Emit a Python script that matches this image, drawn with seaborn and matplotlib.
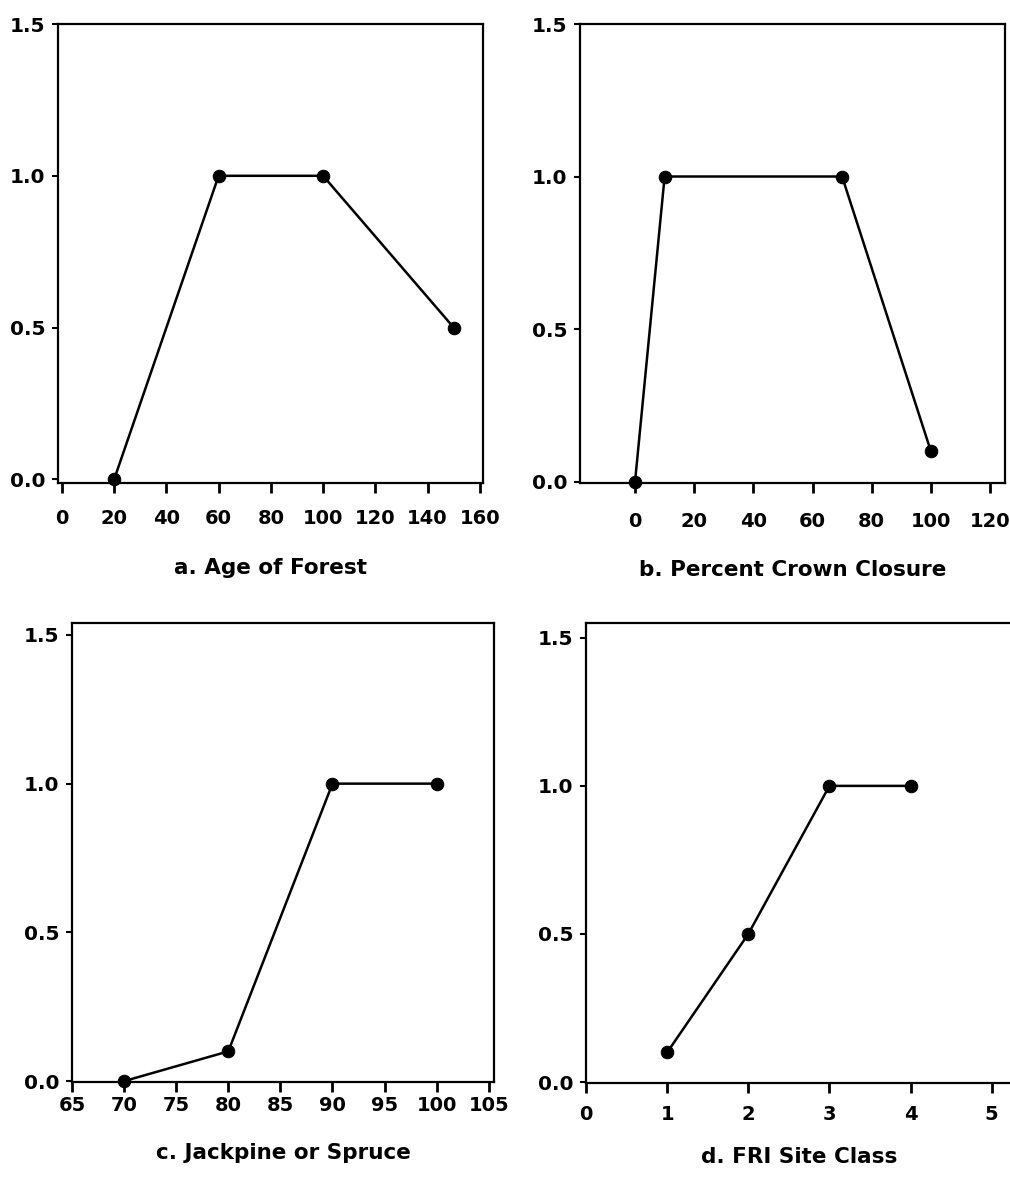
import matplotlib
matplotlib.use("Agg")
import matplotlib.pyplot as plt
import seaborn as sns

# Data
age_x = [20, 60, 100, 150]
age_y = [0.0, 1.0, 1.0, 0.5]

crown_x = [0, 10, 70, 100]
crown_y = [0.0, 1.0, 1.0, 0.1]

jack_x = [70, 80, 90, 100]
jack_y = [0.0, 0.1, 1.0, 1.0]

site_x = [1, 2, 3, 4]
site_y = [0.1, 0.5, 1.0, 1.0]

y_ticks = [0.0, 0.5, 1.0, 1.5]
y_labels = ["0.0", "0.5", "1.0", "1.5"]

age_ticks = [0, 20, 40, 60, 80, 100, 120, 140, 160]
crown_ticks = [0, 20, 40, 60, 80, 100, 120]
jack_ticks = [65, 70, 75, 80, 85, 90, 95, 100, 105]
site_ticks = [0, 1, 2, 3, 4, 5]

titles = ["a. Age of Forest", "b. Percent Crown Closure",
          "c. Jackpine or Spruce", "d. FRI Site Class"]

sns.set_style("white")
plt.rcParams["font.family"] = ["DejaVu Sans"]
plt.rcParams["font.weight"] = "bold"

fig = plt.figure(figsize=(10.1, 11.77), dpi=100)

# axes rectangles (figure fractions) and limits per panel
panels = [
    dict(rect=[0.0574, 0.5896, 0.4208, 0.390], x=age_x, y=age_y, xt=age_ticks,
         xlim=(-1.5, 161.2), ylim=(-0.012, 1.5), title=titles[0], xpad=12, lab=-0.185),
    dict(rect=[0.5743, 0.5896, 0.4208, 0.390], x=crown_x, y=crown_y, xt=crown_ticks,
         xlim=(-18.6, 125.1), ylim=(-0.005, 1.5), title=titles[1], xpad=14, lab=-0.19),
    dict(rect=[0.0713, 0.0807, 0.4178, 0.390], x=jack_x, y=jack_y, xt=jack_ticks,
         xlim=(65, 105.5), ylim=(-0.003, 1.54), title=titles[2], xpad=3, lab=-0.155),
    dict(rect=[0.5802, 0.0799, 0.4218, 0.3908], x=site_x, y=site_y, xt=site_ticks,
         xlim=(0, 5.25), ylim=(-0.003, 1.55), title=titles[3], xpad=9, lab=-0.16),
]

for p in panels:
    ax = fig.add_axes(p["rect"])
    sns.lineplot(x=p["x"], y=p["y"], ax=ax, color="black", linewidth=1.8,
                 marker="o", markersize=9, markeredgecolor="black", clip_on=False)
    ax.set_xlim(*p["xlim"])
    ax.set_ylim(*p["ylim"])
    ax.set_xticks(p["xt"])
    ax.set_xticklabels([str(t) for t in p["xt"]], fontsize=14, fontweight="bold")
    ax.set_yticks(y_ticks)
    ax.set_yticklabels(y_labels, fontsize=14.5, fontweight="bold")
    ax.tick_params(axis="x", direction="out", length=7, width=2, pad=p["xpad"],
                   bottom=True, colors="black")
    ax.tick_params(axis="y", direction="out", length=4, width=1.5, pad=5,
                   left=True, colors="black")
    for s in ax.spines.values():
        s.set_linewidth(1.6)
        s.set_color("black")
    ax.set_xlabel(p["title"], fontsize=15.5, fontweight="bold", va="center",
                  color="black")
    ax.xaxis.set_label_coords(0.5, p["lab"])
    ax.set_ylabel("")

fig.savefig("out.png", dpi=100, facecolor="white")
